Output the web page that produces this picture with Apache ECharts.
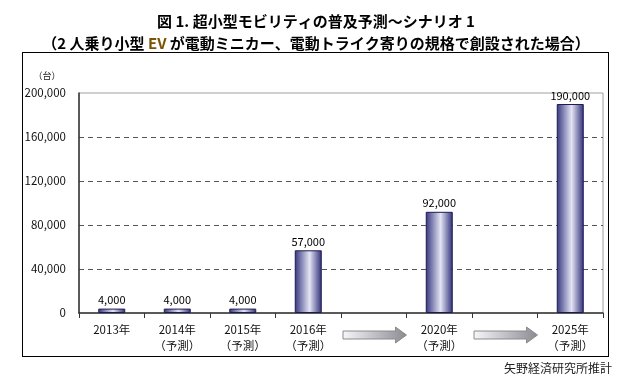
<!DOCTYPE html>
<html>
<head>
<meta charset="utf-8">
<style>
html, body { margin: 0; padding: 0; background: #fff; }
#wrap { position: relative; width: 632px; height: 377px; }
#main { width: 632px; height: 377px; }
#frame { position: absolute; left: 22px; top: 52px; width: 585px; height: 303px; border: 1px solid #000; pointer-events: none; }
</style>
<script src="https://cdn.jsdelivr.net/npm/echarts@6/dist/echarts.min.js"></script>
</head>
<body>
<div id="wrap">
<div id="main"></div>
<div id="frame"></div>
</div>
<script>
// カテゴリ（空欄は矢印の位置）
var categories = ['2013年', '2014年\n（予測）', '2015年\n（予測）', '2016年\n（予測）', '', '2020年\n（予測）', '', '2025年\n（予測）'];
// 台数
var units = [4000, 4000, 4000, 57000, null, 92000, null, 190000];
// 矢印を置くカテゴリ番号
var arrowSlots = [4, 6];

var FONT = '"Noto Sans CJK JP", "Noto Sans", sans-serif';

var chart = echarts.init(document.getElementById('main'));

var barColor = new echarts.graphic.LinearGradient(0, 0, 1, 0, [
    { offset: 0, color: '#35357f' },
    { offset: 0.55, color: '#e4e4f4' },
    { offset: 1, color: '#2e2e78' }
]);

var option = {
    animation: false,
    title: {
        left: 'center',
        top: 5,
        text: '図 1. 超小型モビリティの普及予測～シナリオ 1\n（2 人乗り小型 {ev|EV} が電動ミニカー、電動トライク寄りの規格で創設された場合）',
        textStyle: {
            fontFamily: FONT,
            fontSize: 15,
            fontWeight: 'bold',
            color: '#000',
            lineHeight: 22,
            rich: {
                ev: { fontFamily: FONT, fontSize: 15, fontWeight: 'bold', color: '#7a5400', lineHeight: 22 }
            }
        }
    },
    grid: {
        left: 79,
        right: 29,
        top: 93,
        bottom: 64,
        show: true,
        borderColor: '#a0a0a0',
        borderWidth: 1
    },
    xAxis: {
        type: 'category',
        data: categories,
        axisLine: { lineStyle: { color: '#333', width: 1.5 } },
        axisTick: { show: true, length: 5, lineStyle: { color: '#333' } },
        axisLabel: {
            color: '#111',
            fontFamily: FONT,
            fontSize: 11.5,
            lineHeight: 16,
            margin: 9,
            interval: 0
        }
    },
    yAxis: {
        type: 'value',
        min: 0,
        max: 200000,
        interval: 40000,
        axisLine: { show: true, lineStyle: { color: '#333', width: 1.5 } },
        axisTick: { show: false },
        axisLabel: {
            color: '#111',
            fontFamily: FONT,
            fontSize: 11.5,
            margin: 13,
            formatter: function (v) { return v.toLocaleString('en-US'); }
        },
        splitLine: {
            show: true,
            lineStyle: {
                type: [5, 4],
                color: ['transparent', '#555', '#555', '#555', '#555', 'transparent']
            }
        }
    },
    series: [{
        type: 'bar',
        data: units,
        barWidth: 27,
        itemStyle: {
            color: barColor,
            borderColor: '#1c1c50',
            borderWidth: 1
        },
        label: {
            show: true,
            position: 'top',
            distance: 3,
            color: '#000',
            fontFamily: FONT,
            fontSize: 11,
            formatter: function (p) { return p.value.toLocaleString('en-US'); }
        }
    }]
};

chart.setOption(option);

// 単位・出典・矢印
function drawExtras() {
    var elements = [
        {
            type: 'text',
            x: 47, y: 76,
            style: { text: '（台）', fontFamily: FONT, fontSize: 9, fill: '#111', align: 'center', verticalAlign: 'middle' }
        },
        {
            type: 'text',
            x: 612, y: 368,
            style: { text: '矢野経済研究所推計', fontFamily: FONT, fontSize: 12, fill: '#222', align: 'right', verticalAlign: 'middle' }
        }
    ];
    var step = chart.convertToPixel({ xAxisIndex: 0 }, 1) - chart.convertToPixel({ xAxisIndex: 0 }, 0);
    var yc = 335;
    arrowSlots.forEach(function (idx) {
        var cx = chart.convertToPixel({ xAxisIndex: 0 }, idx);
        var x0 = cx - step / 2 + 2;
        var x1 = cx + step / 2;
        var hx = x1 - 11;
        elements.push({
            type: 'polygon',
            shape: {
                points: [[x0, yc - 4], [hx, yc - 4], [hx, yc - 8], [x1, yc], [hx, yc + 8], [hx, yc + 4], [x0, yc + 4]]
            },
            style: {
                fill: new echarts.graphic.LinearGradient(0, 0, 1, 0, [
                    { offset: 0, color: '#f6f6fb' },
                    { offset: 1, color: '#8a8a90' }
                ]),
                stroke: '#8c8c8c',
                lineWidth: 1
            },
            silent: true
        });
    });
    chart.setOption({ graphic: { elements: elements } });
}
drawExtras();
</script>
</body>
</html>
